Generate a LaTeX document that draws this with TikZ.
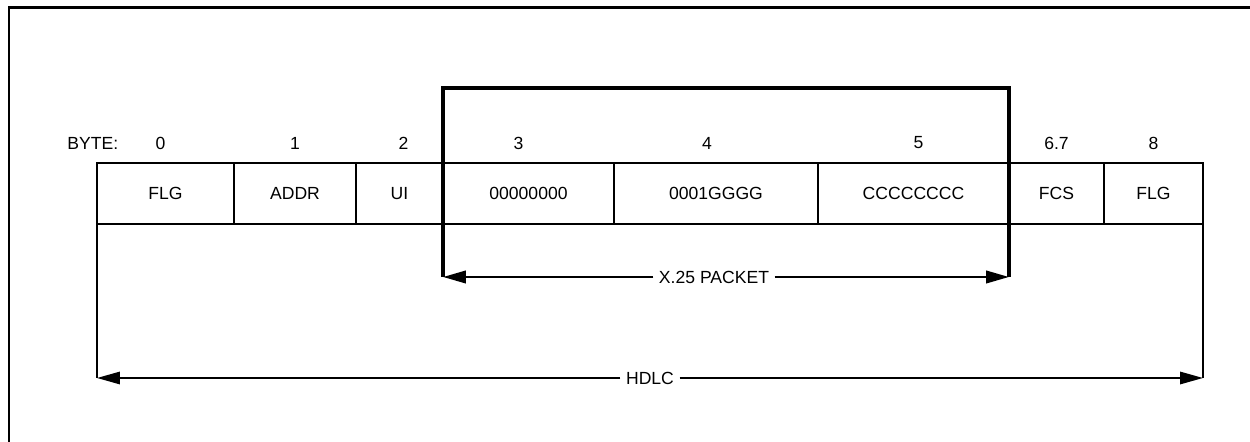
\documentclass[tikz,border=0pt]{standalone}
\usepackage{fontspec}
\setmainfont{Liberation Sans}
\usetikzlibrary{positioning,arrows.meta}
\begin{document}
\begin{tikzpicture}
	\tikzset{field/.style={draw, line width=0.8pt, minimum height=1.22cm, inner sep=0pt, outer sep=0pt, font=\fontsize{10}{12}\selectfont},
		bytenum/.style={inner sep=2pt, font=\fontsize{10}{12}\selectfont},
		spanlbl/.style={inner sep=3pt, font=\fontsize{10}{12}\selectfont},
		pkt_box/.style={line width=2.2pt, line join=miter},
		span_arrow/.style={-{Triangle[length=13pt,width=7pt]}}}
	\useasboundingbox (0,0) rectangle (25,8.84);
	\draw[line width=1.7pt] (0.18,0) -- (0.18,8.68) -- (25,8.68);
	\node[field, minimum width=2.74cm] (flg0) at (3.31,4.97) {FLG};
	\node[field, minimum width=2.44cm, right=0pt of flg0] (addr) {ADDR};
	\node[field, minimum width=1.74cm, right=0pt of addr] (ui) {UI};
	\node[field, minimum width=3.42cm, right=0pt of ui] (zero) {00000000};
	\node[field, minimum width=4.08cm, right=0pt of zero] (gggg) {0001GGGG};
	\node[field, minimum width=3.82cm, right=0pt of gggg] (cccc) {CCCCCCCC};
	\node[field, minimum width=1.90cm, right=0pt of cccc] (fcs) {FCS};
	\node[field, minimum width=1.98cm, right=0pt of fcs] (flg8) {FLG};
	\node[bytenum] (b0) at ([xshift=-0.1cm,yshift=0.4cm]flg0.north) {0};
	\node[bytenum] (b1) at ([yshift=0.4cm]addr.north) {1};
	\node[bytenum] (b2) at ([xshift=0.08cm,yshift=0.4cm]ui.north) {2};
	\node[bytenum] (b3) at ([xshift=-0.2cm,yshift=0.4cm]zero.north) {3};
	\node[bytenum] (b4) at ([xshift=-0.18cm,yshift=0.4cm]gggg.north) {4};
	\node[bytenum] (b5) at ([xshift=0.1cm,yshift=0.4cm]cccc.north) {5};
	\node[bytenum] (b67) at ([yshift=0.4cm]fcs.north) {6.7};
	\node[bytenum] (b8) at ([yshift=0.4cm]flg8.north) {8};
	\node[bytenum, anchor=east] (bytelbl) at (2.44,5.97) {BYTE:};
	\coordinate (pkttop) at (0,7.08);
	\coordinate (pktbase) at (0,3.30);
	\coordinate (hdlcbase) at (0,1.28);
	\coordinate (pktl) at (zero.west |- pktbase);
	\coordinate (pktr) at (cccc.east |- pktbase);
	\coordinate (hdlcl) at (flg0.south west |- hdlcbase);
	\coordinate (hdlcr) at (flg8.south east |- hdlcbase);
	\draw[pkt_box] (pktl) -- (zero.west |- pkttop) -- (cccc.east |- pkttop) -- (pktr);
	\node[spanlbl] (x25) at (14.28,3.30) {X.25 PACKET};
	\draw[span_arrow, line width=1.6pt] (x25) -- (pktl);
	\draw[span_arrow, line width=1.6pt] (x25) -- (pktr);
	\draw[line width=0.8pt] (flg0.south west) -- (hdlcl);
	\draw[line width=0.8pt] (flg8.south east) -- (hdlcr);
	\node[spanlbl] (hdlc) at (13.0,1.28) {HDLC};
	\draw[span_arrow, line width=1.1pt] (hdlc) -- (hdlcl);
	\draw[span_arrow, line width=1.1pt] (hdlc) -- (hdlcr);
\end{tikzpicture}
\end{document}
